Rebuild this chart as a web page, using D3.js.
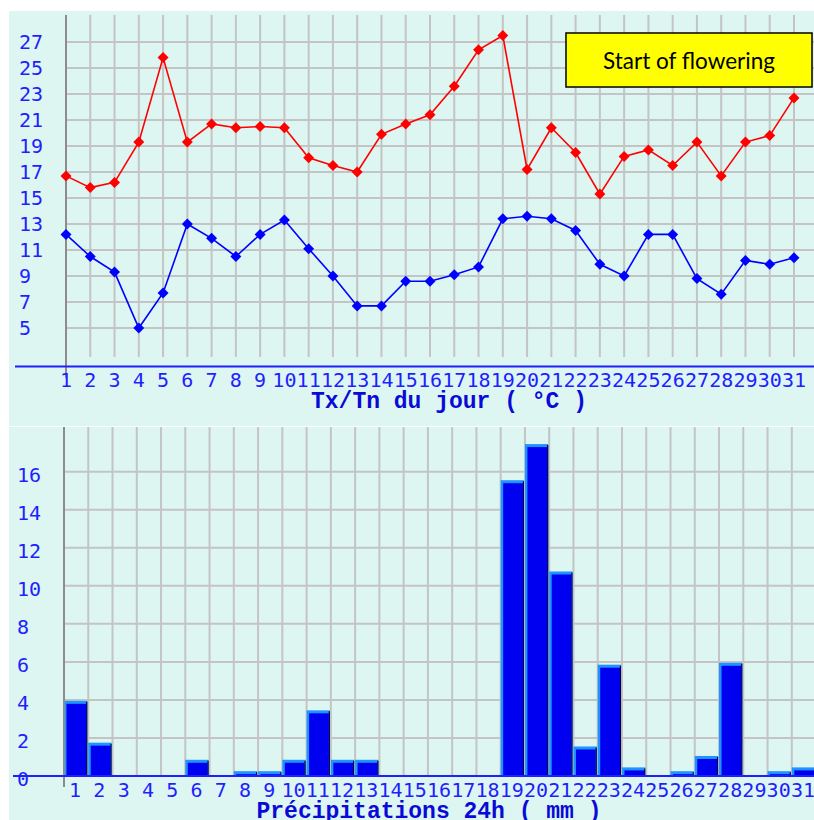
<!DOCTYPE html>
<html>
<head>
<meta charset="utf-8">
<script src="https://cdn.jsdelivr.net/npm/d3@7"></script>
<style>
  body { margin: 0; background: #fff; }
  svg { display: block; }
</style>
</head>
<body>
<svg id="chart" width="814" height="820"></svg>
<script>
const days = d3.range(1, 32);
const tMax = [16.7, 15.8, 16.2, 19.3, 25.8, 19.3, 20.7, 20.4, 20.5, 20.4,
              18.1, 17.5, 17.0, 19.9, 20.7, 21.4, 23.6, 26.4, 27.5, 17.2,
              20.4, 18.5, 15.3, 18.2, 18.7, 17.5, 19.3, 16.7, 19.3, 19.8, 22.7];
const tMin = [12.2, 10.5, 9.3, 5.0, 7.7, 13.0, 11.9, 10.5, 12.2, 13.3,
              11.1, 9.0, 6.7, 6.7, 8.6, 8.6, 9.1, 9.7, 13.4, 13.6,
              13.4, 12.5, 9.9, 9.0, 12.2, 12.2, 8.8, 7.6, 10.2, 9.9, 10.4];
const rain = [3.9, 1.7, 0, 0, 0, 0.8, 0, 0.2, 0.2, 0.8,
              3.4, 0.8, 0.8, 0, 0, 0, 0, 0, 15.5, 17.4,
              10.7, 1.5, 5.8, 0.4, 0, 0.2, 1.0, 5.9, 0, 0.2, 0.4];
const tempTicks = d3.range(5, 28, 2);
const rainTicks = d3.range(0, 17, 2);
const note = "Start of flowering";

const W = 814;
const bg = "#ddf6f1", grid = "#c4c4c4", blue = "#1f1fff";
const tickFont = "'DejaVu Sans Mono', monospace";
const titleFont = "'Liberation Mono', monospace";

const svg = d3.select("#chart");

// ---- temperature panel ----
svg.append("rect").attr("x", 9).attr("y", 11).attr("width", W - 9).attr("height", 415).attr("fill", bg);

const x = d3.scaleLinear().domain([1, 31]).range([66, 794]);
const y = d3.scaleLinear().domain([5, 27]).range([328, 42]);

const tempG = svg.append("g");

tempG.selectAll(".hg").data(tempTicks).enter().append("line")
  .attr("x1", x(1)).attr("x2", W)
  .attr("y1", d => y(d)).attr("y2", d => y(d))
  .attr("stroke", grid).attr("stroke-width", 2);

tempG.selectAll(".vg").data(days.slice(1)).enter().append("line")
  .attr("x1", d => x(d)).attr("x2", d => x(d))
  .attr("y1", 15).attr("y2", 357)
  .attr("stroke", grid).attr("stroke-width", 2);

tempG.append("line").attr("x1", x(1)).attr("x2", x(1)).attr("y1", 15).attr("y2", 378)
  .attr("stroke", "#8c8c8c").attr("stroke-width", 2);

tempG.append("line").attr("x1", 15).attr("x2", W).attr("y1", 366.5).attr("y2", 366.5)
  .attr("stroke", blue).attr("stroke-width", 2);

tempG.selectAll(".yl").data(tempTicks).enter().append("text")
  .attr("x", 19).attr("y", d => y(d)).attr("dy", "0.36em")
  .attr("font-family", tickFont).attr("font-size", 20).attr("fill", blue)
  .text(d => d);

tempG.selectAll(".xl").data(days).enter().append("text")
  .attr("x", d => x(d)).attr("y", 380).attr("dy", "0.36em")
  .attr("text-anchor", "middle")
  .attr("font-family", tickFont).attr("font-size", 20).attr("fill", blue)
  .text(d => d);

tempG.append("text").attr("x", 449).attr("y", 408)
  .attr("text-anchor", "middle").attr("font-family", titleFont)
  .attr("font-size", 23).attr("font-weight", "bold").attr("fill", "#0a0ad8")
  .text("Tx/Tn du jour ( °C )");

const diamond = { draw(p, s) { const r = Math.sqrt(s) / 2; p.moveTo(0, -r); p.lineTo(r, 0); p.lineTo(0, r); p.lineTo(-r, 0); p.closePath(); } };
const marker = d3.symbol().type(diamond).size(120);

[[tMax, "#ff0000"], [tMin, "#0000ff"]].forEach(([vals, col]) => {
  const line = d3.line().x((d, i) => x(days[i])).y(d => y(d));
  tempG.append("path").datum(vals).attr("d", line)
    .attr("fill", "none").attr("stroke", col).attr("stroke-width", 1.6);
  tempG.selectAll(null).data(vals).enter().append("path")
    .attr("d", marker)
    .attr("transform", (d, i) => `translate(${x(days[i])},${y(d)})`)
    .attr("fill", col);
});

tempG.append("rect").attr("x", 566).attr("y", 33).attr("width", 246).attr("height", 54)
  .attr("fill", "#ffff00").attr("stroke", "#000").attr("stroke-width", 1.5);
tempG.append("text").attr("x", 689).attr("y", 61).attr("dy", "0.35em")
  .attr("text-anchor", "middle").attr("font-family", "Lato, 'Open Sans', sans-serif")
  .attr("font-size", 22.5).attr("fill", "#000")
  .text(note);

// ---- rain panel ----
svg.append("rect").attr("x", 9).attr("y", 427).attr("width", W - 9).attr("height", 393).attr("fill", bg);

const xb = d3.scaleBand().domain(days).range([64, 64 + 31 * 24.26]);
const yb = d3.scaleLinear().domain([0, 16]).range([776, 471.7]);

const rainG = svg.append("g");

rainG.selectAll(".hg").data(rainTicks.slice(1)).enter().append("line")
  .attr("x1", 64).attr("x2", W)
  .attr("y1", d => yb(d)).attr("y2", d => yb(d))
  .attr("stroke", grid).attr("stroke-width", 2);

rainG.selectAll(".vg").data(days).enter().append("line")
  .attr("x1", d => xb(d) + xb.bandwidth()).attr("x2", d => xb(d) + xb.bandwidth())
  .attr("y1", 427).attr("y2", 776)
  .attr("stroke", grid).attr("stroke-width", 2);

const bars = rainG.selectAll(".bar").data(rain.map((v, i) => ({ day: days[i], v })).filter(d => d.v > 0))
  .enter().append("g");

// bevelled bar: light top/left edge, dark right edge
bars.append("rect")
  .attr("x", d => xb(d.day)).attr("y", d => yb(d.v) - 1)
  .attr("width", xb.bandwidth() - 1).attr("height", d => yb(0) - yb(d.v) + 1)
  .attr("fill", "#1f93ff");
bars.append("rect")
  .attr("x", d => xb(d.day) + 2.5).attr("y", d => Math.min(yb(d.v) + 2, yb(0)))
  .attr("width", xb.bandwidth() - 4.5).attr("height", d => Math.max(0, yb(0) - yb(d.v) - 2))
  .attr("fill", "#0000f0");
bars.append("line")
  .attr("x1", d => xb(d.day) + xb.bandwidth() - 1.5).attr("x2", d => xb(d.day) + xb.bandwidth() - 1.5)
  .attr("y1", d => yb(d.v)).attr("y2", yb(0))
  .attr("stroke", "#000050").attr("stroke-width", 1.2);

rainG.append("line").attr("x1", 64).attr("x2", 64).attr("y1", 427).attr("y2", 787)
  .attr("stroke", "#8c8c8c").attr("stroke-width", 2);

rainG.append("line").attr("x1", 13).attr("x2", W).attr("y1", 776).attr("y2", 776)
  .attr("stroke", blue).attr("stroke-width", 2);

rainG.selectAll(".yl").data(rainTicks).enter().append("text")
  .attr("x", 17).attr("y", d => yb(d) + 3).attr("dy", "0.36em")
  .attr("font-family", tickFont).attr("font-size", 20).attr("fill", blue)
  .text(d => d);

rainG.selectAll(".xl").data(days).enter().append("text")
  .attr("x", d => xb(d) + xb.bandwidth() / 2 - 1).attr("y", 790).attr("dy", "0.36em")
  .attr("text-anchor", "middle")
  .attr("font-family", tickFont).attr("font-size", 20).attr("fill", blue)
  .text(d => d);

rainG.append("text").attr("x", 429).attr("y", 818)
  .attr("text-anchor", "middle").attr("font-family", titleFont)
  .attr("font-size", 23).attr("font-weight", "bold").attr("fill", "#0a0ad8")
  .text("Précipitations 24h ( mm )");

// thin white seam between panels
svg.append("line").attr("x1", 9).attr("x2", W).attr("y1", 426.5).attr("y2", 426.5)
  .attr("stroke", "#fff").attr("stroke-width", 1);
</script>
</body>
</html>
